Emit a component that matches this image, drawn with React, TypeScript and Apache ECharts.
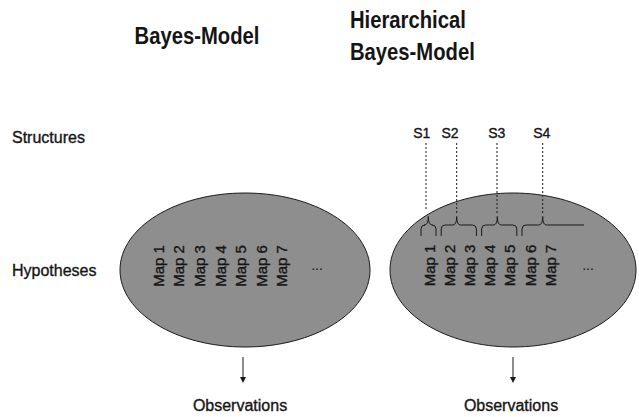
import React, { useEffect, useRef } from "react";
import * as echarts from "echarts";

const leftMaps = ["Map 1", "Map 2", "Map 3", "Map 4", "Map 5", "Map 6", "Map 7"];
const rightMaps = ["Map 1", "Map 2", "Map 3", "Map 4", "Map 5", "Map 6", "Map 7"];
const structures = ["S1", "S2", "S3", "S4"];
// map index ranges grouped under each structure
const structureGroups = [[0, 0], [1, 2], [3, 4], [5, 6]];
const rowLabels = ["Structures", "Hypotheses"];
const titles = ["Bayes-Model", "Hierarchical", "Bayes-Model"];
const bottomLabel = "Observations";
const more = "...";

echarts.graphic.registerShape(
  "brace",
  echarts.graphic.extendShape({
    shape: { x1: 0, x2: 0, pk: 0, peak: 0, mid: 0, bottom: 0, openRight: 0 },
    buildPath(ctx: any, s: any) {
      const r = 4;
      ctx.moveTo(s.x1, s.bottom);
      ctx.lineTo(s.x1, s.mid + r);
      ctx.quadraticCurveTo(s.x1, s.mid, s.x1 + r, s.mid);
      ctx.lineTo(s.pk - r, s.mid);
      ctx.quadraticCurveTo(s.pk, s.mid, s.pk, s.peak);
      ctx.quadraticCurveTo(s.pk, s.mid, s.pk + r, s.mid);
      if (s.openRight) {
        ctx.lineTo(s.x2, s.mid);
      } else {
        ctx.lineTo(s.x2 - r, s.mid);
        ctx.quadraticCurveTo(s.x2, s.mid, s.x2, s.mid + r);
        ctx.lineTo(s.x2, s.bottom);
      }
    },
  }) as any
);

export default function App() {
  const ref = useRef<HTMLDivElement>(null);
  useEffect(() => {
    const chart = echarts.init(ref.current!, null, { renderer: "svg" });
    const ink = "#151515";
    const font = "'Liberation Sans', Arial, sans-serif";
    const g: any[] = [];
    const txt = (
      text: string,
      x: number,
      y: number,
      size: number,
      opts: { weight?: string; align?: string; rotation?: number; scaleX?: number; heavy?: boolean } = {}
    ) => ({
      type: "text",
      x,
      y,
      rotation: opts.rotation || 0,
      scaleX: opts.scaleX || 1,
      style: {
        text,
        fill: ink,
        stroke: opts.heavy ? ink : null,
        lineWidth: opts.heavy ? 0.35 : 0,
        font: `${opts.weight || "normal"} ${size}px ${font}`,
        align: opts.align || "center",
        verticalAlign: "middle",
      },
    });
    // titles
    g.push(txt(titles[0], 197, 36, 23, { weight: "bold", scaleX: 0.88 }));
    g.push(txt(titles[1], 350, 20, 23, { weight: "bold", align: "left", scaleX: 0.88 }));
    g.push(txt(titles[2], 350, 52, 23, { weight: "bold", align: "left", scaleX: 0.88 }));
    // row labels
    g.push(txt(rowLabels[0], 12, 137, 16, { align: "left", heavy: true }));
    g.push(txt(rowLabels[1], 12, 270, 16, { align: "left", heavy: true }));

    const ellipses = [
      { cx: 245, cy: 270, rx: 125, ry: 77 },
      { cx: 513, cy: 270, rx: 123, ry: 77 },
    ];
    ellipses.forEach((e) =>
      g.push({
        type: "ellipse",
        shape: e,
        style: { fill: "#8e8e8e", stroke: "#1a1a1a", lineWidth: 1 },
      })
    );
    // map labels
    leftMaps.forEach((m, i) =>
      g.push(txt(m, 158.3 + i * 20.6, 266, 15, { rotation: Math.PI / 2, heavy: true }))
    );
    const rightX = rightMaps.map((_, i) => 429 + i * 20.2);
    rightMaps.forEach((m, i) => g.push(txt(m, rightX[i], 265.5, 15, { rotation: Math.PI / 2, heavy: true })));
    g.push(txt(more, 317, 265, 14));
    g.push(txt(more, 588, 265, 14));

    // braces and structures
    const peaks = [428.3, 456.7, 497.3, 542.7];
    const sx = [421.7, 450, 496.7, 541.7];
    const lineX = [426, 456.7, 497, 542.7];
    structures.forEach((s, i) => {
      const [a, b] = structureGroups[i];
      const x1 = rightX[a] - 8;
      const x2 = i === 3 ? 584 : rightX[b] + 7;
      g.push({
        type: "brace",
        shape: { x1, x2, pk: peaks[i], peak: 216.5, mid: 225, bottom: 236, openRight: i === 3 ? 1 : 0 },
        style: { stroke: "#1a1a1a", fill: null, lineWidth: 1 },
      });
      g.push(txt(s, sx[i], 132.5, 14, { heavy: true }));
      g.push({
        type: "line",
        shape: { x1: lineX[i], y1: 143, x2: lineX[i], y2: i === 0 ? 211 : 214 },
        style: { stroke: "#1a1a1a", lineWidth: 1, lineDash: [2, 2] },
      });
    });

    // arrows and observations
    [
      [243, 240],
      [513, 511],
    ].forEach(([x, tx]) => {
      g.push({ type: "line", shape: { x1: x, y1: 357, x2: x, y2: 378 }, style: { stroke: "#1a1a1a", lineWidth: 1 } });
      g.push({
        type: "polygon",
        shape: { points: [[x - 3, 377], [x + 3, 377], [x, 383]] },
        style: { fill: "#1a1a1a" },
      });
      g.push(txt(bottomLabel, tx, 405, 16, { heavy: true }));
    });

    chart.setOption({ animation: false, graphic: { elements: g } });
    return () => chart.dispose();
  }, []);
  return (
    <div
      ref={ref}
      style={{ position: "fixed", left: 0, top: 0, width: 639, height: 417, background: "#fff" }}
    />
  );
}
